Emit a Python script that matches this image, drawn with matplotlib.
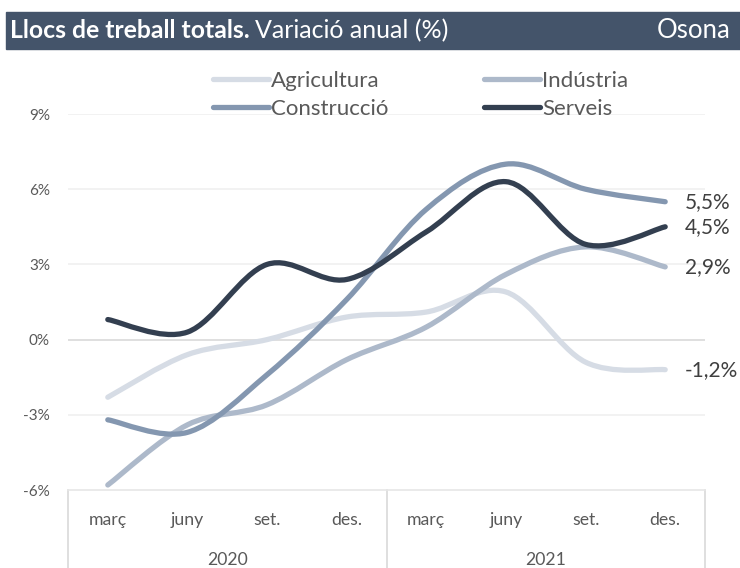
import matplotlib
matplotlib.use("Agg")
import matplotlib.pyplot as plt
from matplotlib.path import Path
from matplotlib.patches import PathPatch, Rectangle
from matplotlib.lines import Line2D

months = ["març", "juny", "set.", "des.", "març", "juny", "set.", "des."]
years = ["2020", "2021"]

agricultura = [-2.3, -0.6, 0.0, 0.9, 1.1, 1.9, -0.9, -1.2]
industria = [-5.8, -3.4, -2.6, -0.8, 0.5, 2.6, 3.7, 2.9]
construccio = [-3.2, -3.7, -1.4, 1.6, 5.2, 7.0, 6.0, 5.5]
serveis = [0.8, 0.3, 3.0, 2.4, 4.3, 6.3, 3.8, 4.5]

series = [
    ("Agricultura", agricultura, "#d6dce5"),
    ("Indústria", industria, "#adb9ca"),
    ("Construcció", construccio, "#8497b0"),
    ("Serveis", serveis, "#333f50"),
]

FONT = "Lato"
plt.rcParams["font.family"] = [FONT, "DejaVu Sans"]


def smooth_path(xs, ys):
    # excel style smoothed line: catmull-rom as cubic bezier
    pts = list(zip(xs, ys))
    n = len(pts)
    verts = [pts[0]]
    codes = [Path.MOVETO]
    for i in range(n - 1):
        p0 = pts[i - 1] if i > 0 else pts[i]
        p1 = pts[i]
        p2 = pts[i + 1]
        p3 = pts[i + 2] if i + 2 < n else pts[i + 1]
        c1 = (p1[0] + (p2[0] - p0[0]) / 6, p1[1] + (p2[1] - p0[1]) / 6)
        c2 = (p2[0] - (p3[0] - p1[0]) / 6, p2[1] - (p3[1] - p1[1]) / 6)
        verts += [c1, c2, p2]
        codes += [Path.CURVE4] * 3
    return Path(verts, codes)


fig = plt.figure(figsize=(7.4, 5.68), dpi=100)

# title bar
fig.patches.append(Rectangle((6 / 740, 1 - 49 / 568), 1, 37 / 568,
                             transform=fig.transFigure, color="#44546a", zorder=0))
t1 = fig.text(10 / 740, 1 - 31 / 568, "Llocs de treball totals.", color="white",
              fontsize=17.8, fontweight="bold", va="center", ha="left")
fig.canvas.draw()
bb = t1.get_window_extent()
fig.text(bb.x1 / 740 + 0.007, 1 - 31 / 568, "Variació anual (%)", color="white",
         fontsize=18, va="center", ha="left")
fig.text(731 / 740, 1 - 31 / 568, "Osona", color="white", fontsize=18.5,
         va="center", ha="right")

ax = fig.add_axes([68 / 740, 1 - 490 / 568, 637 / 740, 376 / 568])
x = list(range(len(months)))

for name, vals, col in series:
    patch = PathPatch(smooth_path(x, vals), facecolor="none", edgecolor=col,
                      linewidth=3.8, capstyle="round", joinstyle="round",
                      zorder=3)
    ax.add_patch(patch)

ax.set_xlim(-0.5, 7.5)
ax.set_ylim(-6, 9)
ax.set_yticks([-6, -3, 0, 3, 6, 9])
ax.set_yticklabels(["-6%", "-3%", "0%", "3%", "6%", "9%"])
for yv in [-3, 3, 6, 9]:
    ax.axhline(yv, color="#f0f0f0", linewidth=1.2, zorder=1)
ax.axhline(0, color="#d9d9d9", linewidth=1.2, zorder=1)
for s in ["top", "right", "left"]:
    ax.spines[s].set_visible(False)
ax.spines["bottom"].set_color("#e6e6e6")
ax.spines["bottom"].set_linewidth(1.2)
ax.tick_params(axis="y", length=0, pad=13, labelsize=11, labelcolor="#595959")
ax.set_xticks(x)
ax.set_xticklabels(months)
ax.tick_params(axis="x", length=0, pad=16, labelsize=12.7, labelcolor="#595959")

# year level of the category axis
for xv in [-0.5, 3.5, 7.5]:
    ax.plot([xv, xv], [0, -0.21], transform=ax.get_xaxis_transform(),
            color="#d9d9d9", linewidth=1.2, clip_on=False)
for i, yr in enumerate(years):
    ax.text(1.5 + 4 * i, -0.185, yr, transform=ax.get_xaxis_transform(),
            ha="center", va="center", fontsize=12.7, color="#595959")

# end labels
for name, vals, col in series:
    lab = ("%.1f%%" % vals[-1]).replace(".", ",")
    ax.text(7.25, vals[-1], lab, ha="left", va="center", fontsize=15,
            color="#404040", clip_on=False)

handles = [Line2D([], [], color=c, linewidth=3.8, solid_capstyle="round")
           for _, _, c in series]
order = [0, 2, 1, 3]
fig.legend([handles[i] for i in order], [series[i][0] for i in order],
           ncol=2, loc="upper left", bbox_to_anchor=(213 / 740, 1 - 71 / 568),
           frameon=False, fontsize=16, handlelength=2.5, handletextpad=0.1,
           columnspacing=4.33, labelspacing=0.34, borderpad=0,
           borderaxespad=0, labelcolor="#595959")

fig.savefig("out.png", dpi=100, facecolor="white")
